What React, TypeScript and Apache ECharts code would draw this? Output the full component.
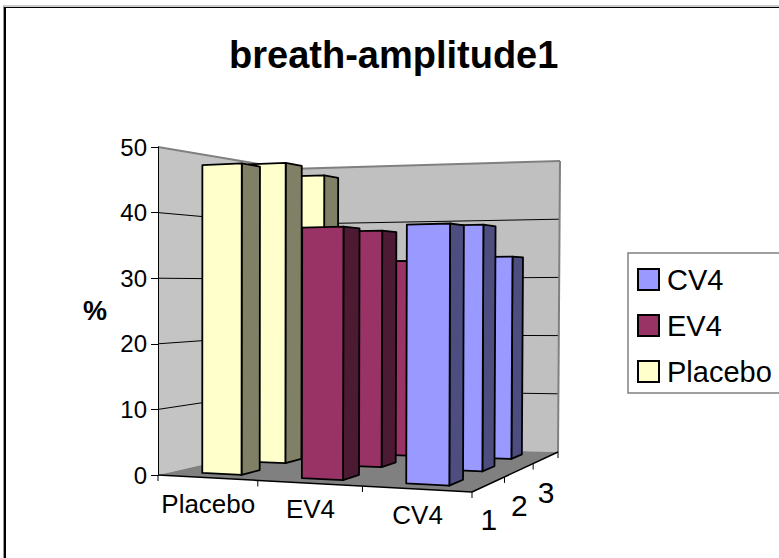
import React, { useEffect, useRef } from "react";
import * as echarts from "echarts";

const categories = ["Placebo", "EV4", "CV4"];
const depthLabels = ["1", "2", "3"];
const valueTicks = [0, 10, 20, 30, 40, 50];
const placeboValues = [47.4, 48.7, 47.8];
const ev4Values = [37.4, 37.4, 32.9];
const cv4Values = [37.5, 38, 33.4];
const legendOrder = ["CV4", "EV4", "Placebo"];

const FLOOR: number[][] = [[158, 475], [472, 492], [558, 452], [288, 445]];
const CEILING: number[][] = [[158, 147], [473, 131], [560, 161], [288, 169]];
const SIDE: Record<string, string> = { Placebo: "#808066", EV4: "#4D1A33", CV4: "#4D4D80" };

// Foreshortening of the two floor directions, as the ticks of the picture show it.
const warpU = (u: number) => u - 0.07 * u * (1 - u);
const warpW = (w: number) => w + 0.2 * w * (1 - w);

function quadMap(q: number[][]) {
  const [p0, p1, p2, p3] = q;
  return (u: number, w: number) => {
    const a = warpU(u), b = warpW(w);
    const lx = p0[0] + (p3[0] - p0[0]) * b, ly = p0[1] + (p3[1] - p0[1]) * b;
    const rx = p1[0] + (p2[0] - p1[0]) * b, ry = p1[1] + (p2[1] - p1[1]) * b;
    return [lx + (rx - lx) * a, ly + (ry - ly) * a];
  };
}
const floorMap = quadMap(FLOOR);
const ceilMap = quadMap(CEILING);

function projector(params: any, api: any) {
  const cs = params.coordSys;
  return (cat: number, row: number, value: number) => {
    const c = api.coord([cat, value]);
    const u = (c[0] - cs.x) / cs.width;
    const t = (cs.y + cs.height - c[1]) / cs.height;
    const f = floorMap(u, row / 3);
    const p = ceilMap(u, row / 3);
    return [f[0] + (p[0] - f[0]) * t, f[1] + (p[1] - f[1]) * t];
  };
}

const FONT = "Liberation Sans";

function renderFrame(params: any, api: any) {
  const P = projector(params, api);
  const children: any[] = [];
  const poly = (points: number[][], fill: string) => ({
    type: "polygon", shape: { points }, style: { fill, stroke: "none" },
  });
  const line = (a: number[], b: number[], stroke: string, lineWidth: number) => ({
    type: "line", shape: { x1: a[0], y1: a[1], x2: b[0], y2: b[1] }, style: { stroke, lineWidth },
  });
  const top = valueTicks[valueTicks.length - 1];
  children.push(poly([P(0, 0, 0), P(0, 3, 0), P(0, 3, top), P(0, 0, top)], "#C4C4C4"));
  children.push(poly([P(0, 3, 0), P(3, 3, 0), P(3, 3, top), P(0, 3, top)], "#C0C0C0"));
  children.push(poly([P(0, 0, 0), P(3, 0, 0), P(3, 3, 0), P(0, 3, 0)], "#808080"));
  valueTicks.slice(1, -1).forEach((v) => {
    children.push(line(P(0, 0, v), P(0, 3, v), "#000", 1));
    children.push(line(P(0, 3, v), P(3, 3, v), "#000", 1));
  });
  children.push(line(P(0, 0, top), P(0, 3, top), "#808080", 2));
  children.push(line(P(0, 3, top), P(3, 3, top), "#808080", 2));
  children.push(line(P(3, 3, top), P(3, 3, 0), "#808080", 2));
  children.push(line(P(0, 0, 0), P(3, 0, 0), "#000", 1.5));
  children.push(line(P(3, 0, 0), P(3, 3, 0), "#000", 1.5));
  for (let i = 0; i <= categories.length; i++) {
    const a = P(i, 0, 0);
    children.push(line(a, [a[0], a[1] + 6], "#000", 1));
  }
  for (let i = 1; i <= depthLabels.length; i++) {
    const a = P(3, i, 0);
    children.push(line(a, [a[0], a[1] + 6], "#000", 1));
  }
  categories.forEach((name, i) => {
    const a = P(i + 0.5, 0, 0);
    children.push({
      type: "text", x: a[0] + 1, y: a[1] + 26,
      style: { text: name, fill: "#000", font: `26px ${FONT}`, align: "center", verticalAlign: "middle" },
    });
  });
  depthLabels.forEach((name, i) => {
    const a = P(3, i + 0.5, 0);
    children.push({
      type: "text", x: a[0], y: a[1] + 35,
      style: { text: name, fill: "#000", font: `30px ${FONT}`, align: "center", verticalAlign: "middle" },
    });
  });
  return { type: "group", children };
}

function renderBar(seriesName: string) {
  return (params: any, api: any) => {
    const P = projector(params, api);
    const cat = api.value(0), row = api.value(1), v = api.value(2);
    const u0 = cat + 0.3, u1 = cat + 0.7, w0 = row + 0.3, w1 = row + 0.7;
    const stroke = { stroke: "#000", lineWidth: 1.8, lineJoin: "round" };
    return {
      type: "group",
      children: [
        {
          type: "polygon",
          shape: { points: [P(u1, w0, 0), P(u1, w1, 0), P(u1, w1, v), P(u1, w0, v)] },
          style: { fill: SIDE[seriesName], ...stroke },
        },
        {
          type: "polygon",
          shape: { points: [P(u0, w0, 0), P(u1, w0, 0), P(u1, w0, v), P(u0, w0, v)] },
          style: { fill: api.visual("color"), ...stroke },
        },
      ],
    };
  };
}

function barSeries(name: string, cat: number, values: number[], color: string) {
  const rows = values.map((v, row) => [cat, row, v]).reverse();
  return {
    name,
    type: "custom",
    coordinateSystem: "cartesian2d",
    clip: false,
    silent: true,
    z: 3,
    itemStyle: { color, borderColor: "#000", borderWidth: 1.5 },
    encode: { x: 0, y: 2 },
    data: rows,
    renderItem: renderBar(name),
  };
}

export default function App() {
  const ref = useRef<HTMLDivElement>(null);
  useEffect(() => {
    const chart = echarts.init(ref.current!, undefined, { renderer: "svg" });
    chart.setOption({
      animation: false,
      backgroundColor: "#fff",
      textStyle: { fontFamily: FONT },
      title: {
        text: "breath-amplitude1",
        left: 229,
        top: 36,
        padding: 0,
        textStyle: { fontFamily: FONT, fontWeight: "bold", fontSize: 38, color: "#000" },
      },
      grid: { left: 158, top: 147, width: 314, height: 328, show: false },
      xAxis: { type: "value", min: 0, max: 3, show: false },
      yAxis: {
        type: "value",
        min: 0,
        max: 50,
        interval: 10,
        z: 5,
        name: "%",
        nameLocation: "middle",
        nameRotate: 0,
        nameGap: 51,
        nameTextStyle: { fontFamily: FONT, fontWeight: "bold", fontSize: 27, color: "#000" },
        axisLine: { show: true, lineStyle: { color: "#000", width: 1 } },
        axisTick: { show: true, length: 7, lineStyle: { color: "#000", width: 1 } },
        axisLabel: { color: "#000", fontFamily: FONT, fontSize: 24, margin: 11 },
        splitLine: { show: false },
      },
      legend: {
        data: legendOrder,
        orient: "vertical",
        left: 628,
        top: 253,
        padding: [12, 40, 7, 9],
        itemGap: 17,
        itemWidth: 21,
        itemHeight: 21,
        icon: "rect",
        selectedMode: false,
        backgroundColor: "#fff",
        borderColor: "#808080",
        borderWidth: 1.5,
        borderRadius: 0,
        textStyle: { fontFamily: FONT, fontSize: 29, color: "#000", padding: [0, 0, 0, 3] },
      },
      graphic: [
        { type: "line", shape: { x1: 3, y1: 6, x2: 779, y2: 6 }, style: { stroke: "#999", lineWidth: 1 } },
        { type: "line", shape: { x1: 3.5, y1: 6, x2: 3.5, y2: 558 }, style: { stroke: "#999", lineWidth: 1 } },
        { type: "line", shape: { x1: 4, y1: 7.5, x2: 779, y2: 7.5 }, style: { stroke: "#000", lineWidth: 1 } },
        { type: "line", shape: { x1: 5, y1: 7, x2: 5, y2: 558 }, style: { stroke: "#000", lineWidth: 2 } },
      ],
      series: [
        {
          type: "custom",
          coordinateSystem: "cartesian2d",
          clip: false,
          silent: true,
          z: 1,
          encode: { x: 0, y: 1 },
          data: [[0, 0]],
          renderItem: renderFrame,
        },
        barSeries("Placebo", 0, placeboValues, "#FFFFCC"),
        barSeries("EV4", 1, ev4Values, "#993366"),
        barSeries("CV4", 2, cv4Values, "#9999FF"),
      ],
    });
    return () => chart.dispose();
  }, []);
  return <div ref={ref} style={{ position: "fixed", left: 0, top: 0, width: 779, height: 558 }} />;
}
